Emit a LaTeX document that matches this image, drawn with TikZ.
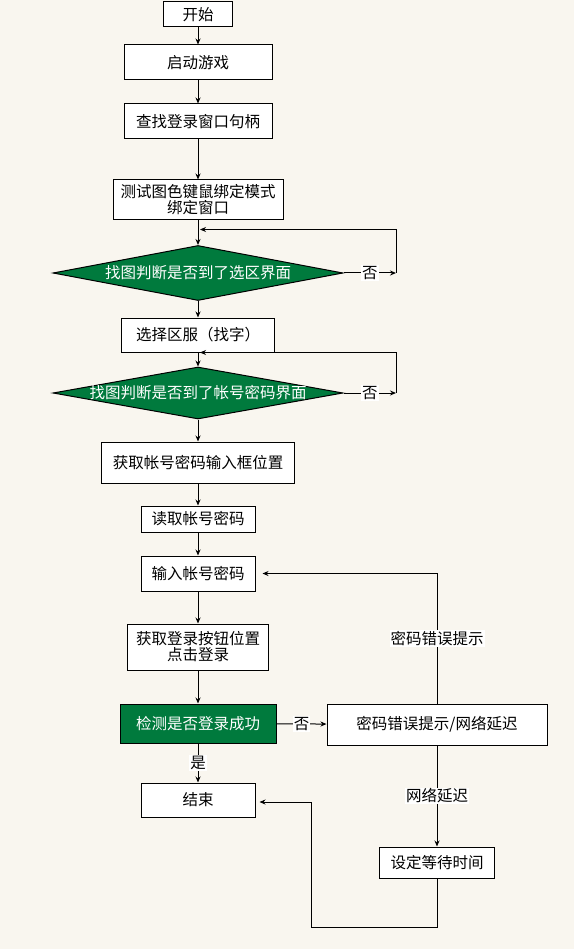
\documentclass[tikz,border=0pt]{standalone}
\usepackage{fontspec}
\setmainfont{Noto Sans CJK SC}
\usetikzlibrary{shapes.geometric,arrows.meta}
\definecolor{bgcream}{RGB}{249,246,239}
\definecolor{flowgreen}{RGB}{0,122,61}
\begin{document}
\begin{tikzpicture}[x=1pt,y=-1pt,line width=1pt,
  font=\fontsize{15.5}{16}\selectfont,
  box/.style={draw, fill=white, inner sep=0pt, align=center},
  judge/.style={diamond, draw, fill=flowgreen, inner sep=0pt, minimum width=290pt},
  arr/.style={-{Stealth[length=6pt,width=5pt]}},
  tag/.style={fill=white, inner sep=1pt}]
\fill[bgcream] (0,0) rectangle (574,949);

% main column
\node[box, minimum width=69pt, minimum height=25pt] (start) at (198,14.5) {开始};
\node[box, minimum width=148pt, minimum height=35pt] (launch) at (198,62.5) {启动游戏};
\node[box, minimum width=148pt, minimum height=35pt] (handle) at (198,121.5) {查找登录窗口句柄};
\node[box, minimum width=170pt, minimum height=40pt] (bind) at (198,200) {测试图色键鼠绑定模式\\绑定窗口};
\node[judge, minimum height=55pt, label={[text=white]center:找图判断是否到了选区界面}] (area) at (198,273) {};
\node[box, minimum width=153pt, minimum height=34pt] (server) at (198,335) {选择区服（找字）};
\node[judge, minimum height=52pt, label={[text=white]center:找图判断是否到了帐号密码界面}] (login) at (198,393) {};
\node[box, minimum width=193pt, minimum height=41pt] (inputpos) at (198,462.5) {获取帐号密码输入框位置};
\node[box, minimum width=114pt, minimum height=26pt] (read) at (198,519) {读取帐号密码};
\node[box, minimum width=114pt, minimum height=35pt] (input) at (198,573.5) {输入帐号密码};
\node[box, minimum width=141pt, minimum height=46pt] (button) at (198,647) {获取登录按钮位置\\点击登录};
\node[box, fill=flowgreen, text=white, minimum width=156pt, minimum height=39pt] (check) at (198,723.5) {检测是否登录成功};
\node[box, minimum width=114pt, minimum height=34pt] (finish) at (198,800) {结束};

% right column
\node[box, minimum width=220pt, minimum height=41pt] (error) at (437,724.5) {密码错误提示/网络延迟};
\node[box, minimum width=115pt, minimum height=31pt] (wait) at (437,862.5) {设定等待时间};

\coordinate (areaout) at (396,273);
\coordinate (loginout) at (396,393);
\coordinate (turn) at (311,927);

\draw[arr] (start) -- (launch);
\draw[arr] (launch) -- (handle);
\draw[arr] (handle) -- (bind);
\draw[arr] (bind) -- (area);
\draw[arr] (area) -- (server);
\draw[arr] (server) -- (login);
\draw[arr] (login) -- (inputpos);
\draw[arr] (inputpos) -- (read);
\draw[arr] (read) -- (input);
\draw[arr] (input) -- (button);
\draw[arr] (button) -- (check);
\draw[arr] (check) -- node[tag] {是} (finish);
\draw[arr] (check) -- node[tag] {否} (error);

% retry loops
\draw[arr] (area.east) -- node[tag] {否} (areaout);
\draw[arr] (areaout) |- ([xshift=2pt,yshift=-9pt]bind.south);
\draw[arr] (login.east) -- node[tag] {否} (loginout);
\draw[arr] (loginout) |- ([xshift=2pt]server.south);

\draw[arr] (error.north) |- node[tag, pos=0.25] {密码错误提示} ([xshift=7pt]input.east);
\draw[arr] (error) -- node[tag] {网络延迟} (wait);
\draw[arr] (wait.south) |- (turn) |- ([xshift=4pt,yshift=-2pt]finish.east);
\end{tikzpicture}
\end{document}
